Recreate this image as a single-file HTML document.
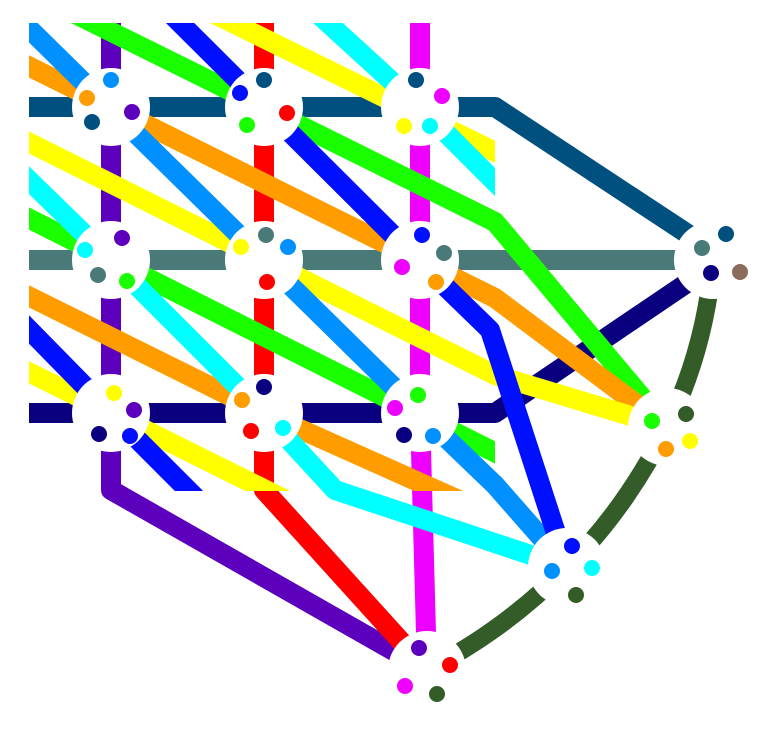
<!DOCTYPE html>
<html><head><meta charset="utf-8"><style>html,body{margin:0;padding:0;background:#fff;}svg{display:block;}</style></head>
<body>
<svg id="map" width="782" height="741" viewBox="0 0 782 741" xmlns="http://www.w3.org/2000/svg">
<defs>
<clipPath id="gridclip"><rect x="29" y="23" width="466" height="468"/></clipPath>
<clipPath id="outerclip"><rect x="29" y="23" width="760" height="720"/></clipPath>
</defs>
<g id="lines"></g>
<g id="stations"></g>
</svg>
<script>
const lineColors = ["#00507f","#4a7a78","#0a007f","#5c00bd","#ff0000","#ee00ff","#19ff00","#19ff00","#ff9c00","#ff9c00","#ffff00","#ffff00","#ffff00","#0090ff","#0010ff","#0010ff","#00ffff","#00ffff"];
const lineInGrid = [false,false,false,false,false,false,false,true,false,true,true,false,true,false,false,true,true,false];
const linePoints = [
 [[10,107],[495,107],[712,250]],
 [[10,260],[712,260]],
 [[10,413],[495,413],[712,266]],
 [[111,0],[111,490],[427,670]],
 [[264,0],[264,490],[427,670]],
 [[420,0],[420,413],[427,670]],
 [[47,0],[495,222],[667,427]],
 [[0,204],[540,475]],
 [[0,52],[495,298],[667,427]],
 [[0,282],[264,413],[470,505]],
 [[190,2],[540,174]],
 [[0,128],[264,260],[495,375],[667,427]],
 [[0,358],[111,413],[300,507]],
 [[0,0],[420,413],[495,485],[567,567]],
 [[158,1],[420,262],[490,330],[567,567]],
 [[0,300],[111,413],[210,512]],
 [[305,2],[420,107],[530,217]],
 [[0,152],[111,260],[264,413],[335,490],[567,567]]
];
const stationPos = [[111,107],[264,107],[420,107],[111,260],[264,260],[420,260],[111,413],[264,413],[420,413],[713,260],[667,427],[567,567],[427,670]];
const stationDots = [
 [[111,80,"#0090ff"],[87,98,"#ff9c00"],[92,122,"#00507f"],[132,112,"#5c00bd"]],
 [[264,80,"#00507f"],[240,93,"#0010ff"],[287,113,"#ff0000"],[247,125,"#19ff00"]],
 [[416,80,"#00507f"],[442,96,"#ee00ff"],[404,126,"#ffff00"],[430,126,"#00ffff"]],
 [[122,238,"#5c00bd"],[85,250,"#00ffff"],[98,275,"#4a7a78"],[127,281,"#19ff00"]],
 [[266,235,"#4a7a78"],[241,247,"#ffff00"],[288,247,"#0090ff"],[267,282,"#ff0000"]],
 [[422,235,"#0010ff"],[444,253,"#4a7a78"],[402,267,"#ee00ff"],[436,282,"#ff9c00"]],
 [[114,393,"#ffff00"],[134,410,"#5c00bd"],[99,434,"#0a007f"],[130,436,"#0010ff"]],
 [[264,387,"#0a007f"],[242,400,"#ff9c00"],[251,431,"#ff0000"],[283,428,"#00ffff"]],
 [[418,395,"#19ff00"],[395,408,"#ee00ff"],[404,435,"#0a007f"],[433,436,"#0090ff"]],
 [[726,234,"#00507f"],[702,248,"#4a7a78"],[711,273,"#0a007f"],[740,272,"#8b6c5c"]],
 [[652,421,"#19ff00"],[686,414,"#335c28"],[666,449,"#ff9c00"],[690,441,"#ffff00"]],
 [[572,546,"#0010ff"],[552,571,"#0090ff"],[592,568,"#00ffff"],[576,595,"#335c28"]],
 [[419,648,"#5c00bd"],[450,665,"#ff0000"],[405,686,"#ee00ff"],[437,694,"#335c28"]]
];
const NS="http://www.w3.org/2000/svg";
const lg=document.getElementById('lines');
const arc=document.createElementNS(NS,'path');


arc.setAttribute('d','M713,260 Q705,350 667,427 Q625,510 567,567 Q505,630 427,670');
arc.setAttribute('fill','none');arc.setAttribute('stroke','#335c28');arc.setAttribute('stroke-width','18');
lg.appendChild(arc);
lineColors.forEach((c,i)=>{
 const p=document.createElementNS(NS,'polyline');
 
 
 p.setAttribute('points',linePoints[i].map(q=>q.join(',')).join(' '));
 p.setAttribute('fill','none');p.setAttribute('stroke',c);p.setAttribute('stroke-width','20');
 p.setAttribute('stroke-linejoin','round');
 p.setAttribute('clip-path',lineInGrid[i]?'url(#gridclip)':'url(#outerclip)');
 lg.appendChild(p);
});
const sg=document.getElementById('stations');
stationPos.forEach((s,i)=>{
 const c=document.createElementNS(NS,'circle');
 
 
 c.setAttribute('cx',s[0]);c.setAttribute('cy',s[1]);c.setAttribute('r','39');c.setAttribute('fill','#fff');
 sg.appendChild(c);
 stationDots[i].forEach(d=>{
  const e=document.createElementNS(NS,'circle');
  
  
  e.setAttribute('cx',d[0]);e.setAttribute('cy',d[1]);e.setAttribute('r','8');e.setAttribute('fill',d[2]);
  sg.appendChild(e);
 });
});
</script>
</body></html>
